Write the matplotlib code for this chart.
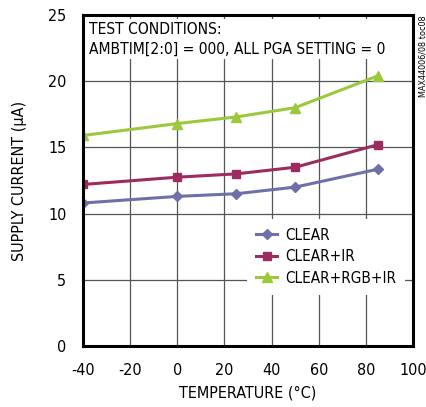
import matplotlib
matplotlib.use("Agg")
import matplotlib.pyplot as plt

plt.rcParams["font.family"] = ["DejaVu Sans"]
plt.rcParams["font.stretch"] = "condensed"
plt.rcParams["axes.unicode_minus"] = False

TEMPS = [-40, 0, 25, 50, 85]
CLEAR = [10.8, 11.3, 11.5, 12.0, 13.35]
CLEAR_IR = [12.2, 12.75, 13.0, 13.5, 15.2]
CLEAR_RGB_IR = [15.9, 16.8, 17.3, 18.0, 20.4]

X_TICKS = [-40, -20, 0, 20, 40, 60, 80, 100]
Y_TICKS = [0, 5, 10, 15, 20, 25]

fig = plt.figure(figsize=(4.26, 4.07), dpi=100)
ax = fig.add_axes([83 / 426, 61 / 407, 330 / 426, 331 / 407])

ax.plot(TEMPS, CLEAR, color="#6f70a8", lw=2.2, marker="D", ms=5.5, label="CLEAR")
ax.plot(TEMPS, CLEAR_IR, color="#9c2b5f", lw=2.2, marker="s", ms=5.5, label="CLEAR+IR")
ax.plot(TEMPS, CLEAR_RGB_IR, color="#9cc83c", lw=2.2, marker="^", ms=6.5, label="CLEAR+RGB+IR")

ax.set_xlim(-40, 100)
ax.set_ylim(0, 25)
ax.set_xticks(X_TICKS)
ax.set_yticks(Y_TICKS)
ax.grid(True, color="#555555", lw=0.9)
ax.set_axisbelow(True)
ax.tick_params(length=0, labelsize=11.5, pad=12)
for s in ax.spines.values():
    s.set_linewidth(2.2)

ax.set_xlabel("TEMPERATURE (°C)", fontsize=11.5, labelpad=6)
ax.set_ylabel("SUPPLY CURRENT (µA)", fontsize=11.5, labelpad=15)

ax.text(-37.5, 24.5, "TEST CONDITIONS:\nAMBTIM[2:0] = 000, ALL PGA SETTING = 0",
        fontsize=11.2, va="top", ha="left", linespacing=1.4,
        bbox=dict(facecolor="white", edgecolor="none", pad=2))

leg = ax.legend(loc="lower right", bbox_to_anchor=(0.976, 0.155), fontsize=11,
                frameon=True, fancybox=False, edgecolor="none", framealpha=1,
                handlelength=1.4, borderpad=0.6, labelspacing=0.42, handletextpad=0.5,
                borderaxespad=0)

fig.text(422.5 / 426, 1 - 15 / 407, "MAX44006/08 toc08", rotation=90,
         fontsize=6.5, ha="center", va="top")

fig.savefig("out.png", dpi=100)
